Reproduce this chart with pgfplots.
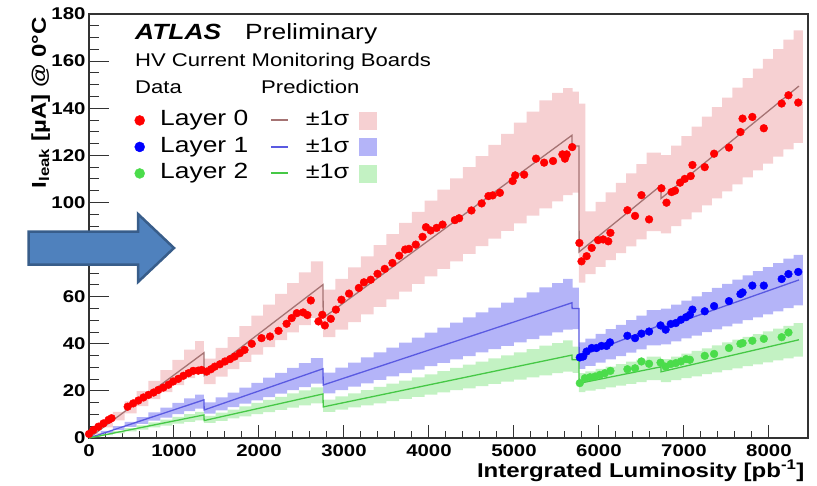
\documentclass[border=0pt]{standalone}
\usepackage{fontspec}
\setmainfont{Liberation Sans}[FakeStretch=1.2]
\usepackage{pgfplots}
\usepackage{pgfplotstable}
\pgfplotsset{compat=1.18}
\usepgfplotslibrary{fillbetween}

\definecolor{datred}{RGB}{255,0,0}
\definecolor{datblue}{RGB}{0,0,255}
\definecolor{datgreen}{RGB}{75,220,75}
\definecolor{predred}{RGB}{165,115,115}
\definecolor{predblue}{RGB}{90,90,225}
\definecolor{predgreen}{RGB}{70,200,70}
\definecolor{bandred}{RGB}{246,208,210}
\definecolor{bandblue}{RGB}{180,180,248}
\definecolor{bandgreen}{RGB}{195,242,195}
\definecolor{arrowfill}{RGB}{79,129,189}
\definecolor{arrowdraw}{RGB}{56,93,138}

% prediction +-1 sigma bands, one strip per row (strip starts at x)
\pgfplotstableread{
x rhi rlo bhi blo ghi glo
0 2.2 1.5 1.0 0.7 0.6 0.4
140 6.6 4.5 3.0 2.0 1.8 1.2
280 11.1 7.5 5.0 3.4 3.0 2.0
420 15.5 10.5 6.9 4.7 4.2 2.8
560 19.9 13.5 8.9 6.0 5.4 3.6
700 24.3 16.5 10.9 7.4 6.6 4.5
840 28.8 19.5 12.9 8.7 7.8 5.3
980 33.2 22.5 14.9 10.1 9.0 6.1
1120 37.5 25.4 16.8 11.4 10.1 6.9
1250 41.1 27.8 18.4 12.5 11.1 7.5
1353 33.7 22.9 15.1 10.3 9.4 6.4
1490 38.3 26.1 17.3 11.7 10.8 7.3
1630 42.8 29.2 19.3 13.1 12.1 8.3
1770 47.5 32.3 21.4 14.6 13.4 9.2
1910 52.0 35.4 23.4 16.0 14.9 10.1
2050 56.6 38.6 25.6 17.4 16.2 11.0
2190 61.2 41.6 27.6 18.8 17.5 11.9
2330 65.8 44.8 29.8 20.3 18.9 12.9
2470 70.3 47.9 31.8 21.6 20.2 13.8
2610 75.0 51.0 33.9 23.1 21.5 14.7
2755 63.0 42.8 27.8 19.0 16.3 11.1
2900 67.6 46.0 29.9 20.3 17.7 12.1
3050 72.4 49.2 32.0 21.8 19.0 13.0
3200 77.1 52.5 34.2 23.2 20.3 13.9
3350 81.9 55.7 36.3 24.7 21.7 14.7
3500 86.5 58.9 38.4 26.2 23.1 15.7
3650 91.3 62.1 40.5 27.5 24.4 16.6
3800 96.0 65.4 42.6 29.0 25.7 17.5
3950 100.8 68.6 44.7 30.5 27.0 18.4
4100 105.4 71.8 46.9 31.9 28.4 19.4
4250 110.2 75.0 49.0 33.4 29.8 20.3
4400 115.0 78.2 51.2 34.8 31.1 21.1
4550 119.7 81.5 53.3 36.3 32.4 22.0
4700 124.4 84.6 55.3 37.7 33.8 23.0
4850 129.1 87.9 57.5 39.1 35.1 23.9
5000 133.9 91.1 59.6 40.6 36.4 24.8
5150 138.6 94.4 61.8 42.0 37.7 25.7
5300 143.3 97.5 63.9 43.5 39.2 26.6
5450 146.5 100.5 65.8 44.8 40.3 27.5
5580 148.5 103.1 67.6 46.0 41.4 28.2
5690 147.0 104.2 63.8 46.2 38.8 27.6
5765 142.0 66.0 40.6 29.4 27.5 19.5
5840 96.2 69.6 42.2 30.6 28.3 20.1
5960 100.2 72.6 44.2 32.0 29.4 20.8
6080 104.3 75.5 46.2 33.4 30.3 21.5
6200 108.3 78.5 48.0 34.8 31.4 22.2
6320 112.3 81.3 50.0 36.2 32.4 23.0
6440 116.3 84.3 52.0 37.6 33.3 23.7
6560 121.2 87.8 54.3 39.3 34.6 24.6
6730 120.1 86.9 54.9 39.7 33.5 23.7
6850 124.1 89.9 56.6 41.0 34.6 24.6
6970 128.2 92.8 58.3 42.3 35.8 25.4
7090 132.2 95.8 60.1 43.5 37.0 26.2
7210 136.4 98.8 61.9 44.9 38.1 27.1
7330 140.5 101.7 63.7 46.1 39.3 27.9
7450 144.5 104.7 65.4 47.4 40.6 28.8
7570 148.7 107.7 67.2 48.6 41.8 29.6
7690 152.8 110.6 69.0 50.0 42.9 30.5
7810 156.8 113.6 70.8 51.2 44.1 31.3
7930 160.9 116.5 72.5 52.5 45.3 32.1
8050 165.1 119.5 74.2 53.8 46.4 33.0
8170 169.1 122.5 76.1 55.1 47.6 33.8
8290 173.1 125.3 77.7 56.3 48.8 34.6
8400 173.1 125.3 77.7 56.3 48.8 34.6
}\bands

\begin{document}
\begin{tikzpicture}
\begin{axis}[
    at={(89pt,-438pt)}, anchor=south west,
    scale only axis, width=719pt, height=424pt,
    xmin=0, xmax=8460, ymin=0, ymax=180,
    xtick={0,1000,...,8000}, ytick={0,20,...,180},
    minor x tick num=4, minor y tick num=3,
    tick align=inside, tick pos=left,
    major tick length=20pt, minor tick length=10pt,
    major x tick style={/pgfplots/major tick length=13pt},
    minor x tick style={/pgfplots/minor tick length=7pt},
    axis line style={line width=1.2pt, black!80},
    tick style={black!80, line width=1pt},
    ticklabel style={font=\bfseries\fontsize{17}{17}\selectfont},
    /pgf/number format/assume math mode=true,
    /pgf/number format/1000 sep={},
    xticklabel style={yshift=-3pt},
    xlabel={Intergrated Luminosity [pb\textsuperscript{-1}]},
    ylabel={I\textsubscript{leak} [µA] @ 0°C},
    every axis x label/.style={at={(axis description cs:1,-0.092)}, anchor=base east, font=\bfseries\fontsize{20}{20}\selectfont},
    every axis y label/.style={at={(axis description cs:-0.067,1)}, rotate=90, anchor=east, font=\bfseries\fontsize{20}{20}\selectfont},
    legend columns=3,
    legend cell align=left,
    legend style={at={(axis description cs:0.0633,0.7807)}, anchor=north west,
        draw=none, fill=none, inner sep=0pt,
        font=\fontsize{22}{22}\selectfont,
        nodes={inner xsep=0pt, inner ysep=2.75pt, text height=16pt, text depth=5pt},
        /tikz/column 1/.style={column sep=15.5pt},
        /tikz/column 2/.style={column sep=21.5pt},
        /tikz/column 3/.style={column sep=17pt},
        /tikz/column 4/.style={column sep=10pt}},
]
% legend
\addlegendimage{only marks, mark=*, mark size=5pt, color=datred}
\addlegendentry{Layer 0}
\addlegendimage{predred, line width=2pt}
\addlegendentry{\fontsize{21}{21}\selectfont ±1σ}
\addlegendimage{legend image code/.code={\fill[bandred] (0pt,-8.5pt) rectangle (17pt,8.5pt);}}
\addlegendentry{}
\addlegendimage{only marks, mark=*, mark size=5pt, color=datblue}
\addlegendentry{Layer 1}
\addlegendimage{predblue, line width=2pt}
\addlegendentry{\fontsize{21}{21}\selectfont ±1σ}
\addlegendimage{legend image code/.code={\fill[bandblue] (0pt,-8.5pt) rectangle (17pt,8.5pt);}}
\addlegendentry{}
\addlegendimage{only marks, mark=*, mark size=5pt, color=datgreen}
\addlegendentry{Layer 2}
\addlegendimage{predgreen, line width=2pt}
\addlegendentry{\fontsize{21}{21}\selectfont ±1σ}
\addlegendimage{legend image code/.code={\fill[bandgreen] (0pt,-8.5pt) rectangle (17pt,8.5pt);}}
\addlegendentry{}

% bands
\addplot[const plot, draw=none, name path=rhi, forget plot] table[x=x, y=rhi]{\bands};
\addplot[const plot, draw=none, name path=rlo, forget plot] table[x=x, y=rlo]{\bands};
\addplot[fill=bandred, draw=none, forget plot] fill between[of=rhi and rlo];
\addplot[const plot, draw=none, name path=bhi, forget plot] table[x=x, y=bhi]{\bands};
\addplot[const plot, draw=none, name path=blo, forget plot] table[x=x, y=blo]{\bands};
\addplot[fill=bandblue, draw=none, forget plot] fill between[of=bhi and blo];
\addplot[const plot, draw=none, name path=ghi, forget plot] table[x=x, y=ghi]{\bands};
\addplot[const plot, draw=none, name path=glo, forget plot] table[x=x, y=glo]{\bands};
\addplot[fill=bandgreen, draw=none, forget plot] fill between[of=ghi and glo];

% predictions
\addplot[predred, line width=1.3pt, forget plot] coordinates {
(0,0) (1353,36.2) (1355,26.5) (2753,65.1) (2756,51) (5682,128.5) (5685,124)
(5765,124) (5767,79) (6729,107.2) (6731,101.7) (8353,149.4)};
\addplot[predblue, line width=1.3pt, forget plot] coordinates {
(0,0) (1353,16.2) (1355,11.9) (2753,29.4) (2756,22.5) (5682,57.4) (5685,55)
(5765,55) (5767,34.5) (6729,48) (6731,46.5) (8353,67.1)};
\addplot[predgreen, line width=1.3pt, forget plot] coordinates {
(0,0) (1353,9.8) (1355,7.4) (2753,18.7) (2756,13.2) (5682,35.2) (5685,33.2)
(5765,33.2) (5767,23.2) (6729,30.2) (6731,28.1) (8353,41.7)};

% data
\addplot[only marks, mark=*, mark size=3.9pt, color=datred, forget plot] coordinates {
(0,1.7) (50,3.4) (110,4.8) (170,6.2) (230,7.7) (265,8.4)
(455,13.3) (520,14.7) (580,15.9) (640,17.2) (700,18.3) (760,19.3) (815,20.4)
(875,21.4) (935,22.6) (990,24) (1050,25.1) (1110,26.4) (1170,27.5) (1225,28.5)
(1285,28.6) (1325,28.9) (1385,28.2) (1435,29.2) (1480,30.3) (1540,31.3)
(1600,32.5) (1660,33.5) (1715,34.6) (1775,36) (1830,37.4) (1915,40) (2030,42.4)
(2130,43.1) (2230,45.5) (2325,48.5) (2385,50.9) (2445,53) (2520,53.3) (2570,52.2)
(2610,58.4) (2700,49.5) (2745,52.3) (2775,47.8) (2845,50.6) (2905,54.5)
(2970,58.7) (3060,61.3) (3175,63.7) (3235,66.1) (3315,67.2) (3395,69.7)
(3480,71.8) (3570,74.3) (3650,77.4) (3720,80) (3765,80.3) (3845,82.1)
(3925,85.4) (3965,89.5) (4020,88.1) (4090,89.2) (4160,90.6) (4305,92.5)
(4355,93.3) (4500,96.6) (4620,99.6) (4700,102.7) (4750,103) (4835,104.1)
(4985,109.1) (5015,111.5) (5120,111.8) (5260,118.6) (5355,116.9) (5460,117.6)
(5570,120.4) (5600,118.6) (5620,120.4) (5685,123.5) (5770,82.8) (5795,75)
(5855,77.2) (5915,80.7) (5990,84) (6050,84.3) (6110,83.5) (6135,87.1)
(6335,96.7) (6425,94.3) (6500,103.1) (6590,92.8) (6735,106) (6795,99.9)
(6855,104.4) (6895,105) (6955,108.4) (7010,110) (7080,111.2) (7100,115.9)
(7245,115) (7355,120.7) (7530,123.3) (7665,129.9) (7690,135.6) (7805,136.3)
(7940,131.5) (8150,142) (8230,145.5) (8345,142.4)};
\addplot[only marks, mark=*, mark size=3.9pt, color=datblue, forget plot] coordinates {
(5775,34.2) (5815,34.6) (5855,36.7) (5915,38.2) (5970,38.2) (6030,39.1)
(6090,39.1) (6130,40.6) (6335,43.4) (6425,42.4) (6500,44.3) (6590,45.2)
(6725,47.8) (6785,46) (6845,48.4) (6905,48.8) (6965,50.2) (7025,51.3)
(7070,52.3) (7100,54.5) (7245,53.8) (7355,56) (7530,58.1) (7665,61.1)
(7690,61.8) (7805,64.7) (7940,64.7) (8150,67.5) (8230,69.6) (8345,70.5)};
\addplot[only marks, mark=*, mark size=3.9pt, color=datgreen, forget plot] coordinates {
(5775,23.3) (5835,25.4) (5895,25.8) (5955,26.1) (6010,26.8) (6070,27.5)
(6135,28.5) (6335,29.2) (6425,29.6) (6500,32.5) (6590,31.5) (6725,32)
(6785,30.3) (6845,31.4) (6905,31.8) (6965,32.5) (7025,33.5) (7070,33.2)
(7245,34.9) (7355,35.7) (7530,38.2) (7665,40) (7690,40.3) (7805,41.3)
(7940,42.1) (8150,42.8) (8230,44.8)};
\end{axis}

\node[anchor=base west, inner sep=0pt, font=\bfseries\itshape\fontsize{22}{22}\selectfont] at (135pt,-39pt) {ATLAS};
\node[anchor=base west, inner sep=0pt, font=\fontsize{22}{22}\selectfont] at (245pt,-39pt) {Preliminary};
\node[anchor=base west, inner sep=0pt, font=\fontsize{18.4}{18.4}\selectfont] at (135pt,-66pt) {HV Current Monitoring Boards};
\node[anchor=base west, inner sep=0pt, font=\fontsize{18.4}{18.4}\selectfont] at (135pt,-93pt) {Data};
\node[anchor=base west, inner sep=0pt, font=\fontsize{18.4}{18.4}\selectfont] at (261pt,-93pt) {Prediction};

% block arrow
\draw[fill=arrowfill, draw=arrowdraw, line width=2.5pt, line join=miter]
  (28.5pt,-231.5pt) -- (138pt,-231.5pt) -- (138pt,-214pt) -- (174pt,-248pt)
  -- (138pt,-282pt) -- (138pt,-264.5pt) -- (28.5pt,-264.5pt) -- cycle;

\pgfresetboundingbox
\path[use as bounding box] (0pt,0pt) rectangle (817pt,-485pt);
\end{tikzpicture}
\end{document}
